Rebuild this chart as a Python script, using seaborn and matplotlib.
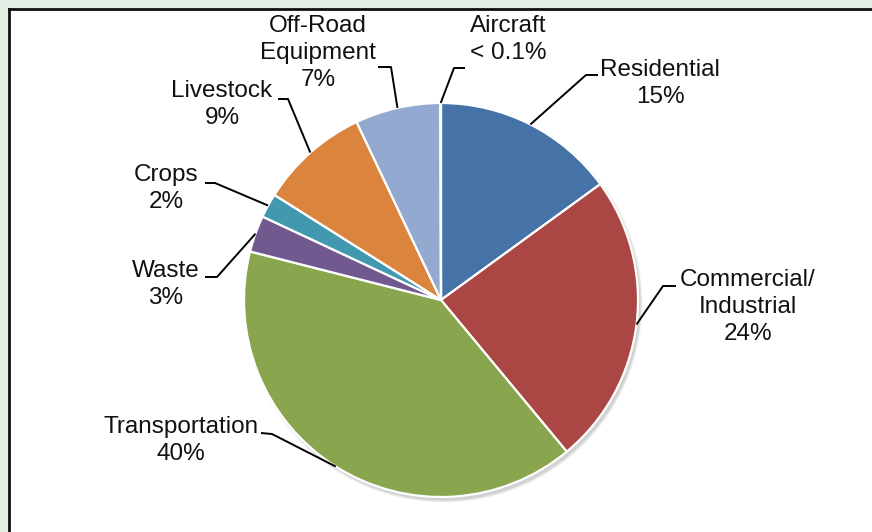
import numpy as np
import matplotlib
matplotlib.use("Agg")
import matplotlib.pyplot as plt
import seaborn as sns
from matplotlib.patches import Circle

sns.set_theme(style="white")
plt.rcParams['font.family'] = ['Liberation Sans', 'DejaVu Sans']

# ---- data ----
categories = ["Residential", "Commercial/\nIndustrial", "Transportation", "Waste",
              "Crops", "Livestock", "Off-Road\nEquipment", "Aircraft"]
values = [15, 24, 40, 3, 2, 9, 7, 0.05]
pct_labels = ["15%", "24%", "40%", "3%", "2%", "9%", "7%", "< 0.1%"]
colors = ["#4572A7", "#AA4643", "#89A54E", "#71588F", "#4198AF", "#DB843D", "#93A9CF", "#A47D7C"]

W, H = 872, 532
fig = plt.figure(figsize=(W / 100, H / 100), dpi=100)
fig.patch.set_facecolor("#E3EDE4")

# white panel with dark border (top/left visible)
panel = fig.add_axes([9 / W, -0.02, 1.05, 1 - 9 / H + 0.02])
panel.set_facecolor("white")
panel.set_xticks([]); panel.set_yticks([])
for s in ["left", "top"]:
    panel.spines[s].set_color("#111111")
    panel.spines[s].set_linewidth(2.0)
    panel.spines[s].set_visible(True)
for s in ["right", "bottom"]:
    panel.spines[s].set_visible(False)

ax = fig.add_axes([0, 0, 1, 1])
ax.set_xlim(0, W); ax.set_ylim(0, H)
ax.set_aspect("equal")
ax.axis("off")
ax.patch.set_alpha(0)

def py(y):
    return H - y

cx, cy, R = 441, py(300), 197

# soft shadow
for i, a in enumerate([0.05, 0.06, 0.08]):
    ax.add_patch(Circle((cx + 2.5, cy - 3.5), R + 2 - i, color="black", alpha=a, lw=0, zorder=0))

wedges, _ = ax.pie(values, colors=colors, startangle=90, counterclock=False,
                   center=(cx, cy), radius=R, frame=True,
                   wedgeprops=dict(edgecolor="white", linewidth=1.6))
ax.set_xlim(0, W); ax.set_ylim(0, H)
ax.axis("off")

# label layout (pixel coords): text center x, block center y, elbow, line end near label
layout = [
    (660, 83.5, (586, 75), (598, 75)),
    (748, 307, (663, 286), (676, 286)),
    (181, 440.5, (272, 434), (261, 433)),
    (166, 284.5, (217, 277), (205, 277)),
    (166, 188.5, (215, 183), (205, 183)),
    (222, 104.5, (288, 99), (278, 99)),
    (318, 53, (391, 67), (378, 67)),
    (508, 39.5, (454, 68), (465, 68)),
]

for w, cat, pct, (tx, ty, elbow, lend) in zip(wedges, categories, pct_labels, layout):
    ang = np.deg2rad((w.theta1 + w.theta2) / 2)
    ex, ey = cx + R * np.cos(ang), cy + R * np.sin(ang)
    ax.plot([ex, elbow[0], lend[0]], [ey, py(elbow[1]), py(lend[1])],
            color="black", lw=1.4, solid_capstyle="butt", zorder=5)
    ax.text(tx, py(ty), f"{cat}\n{pct}", ha="center", va="center",
            fontsize=17.5, color="#111111", linespacing=1.3, zorder=6)

fig.savefig("out.png", dpi=100, facecolor=fig.get_facecolor())
